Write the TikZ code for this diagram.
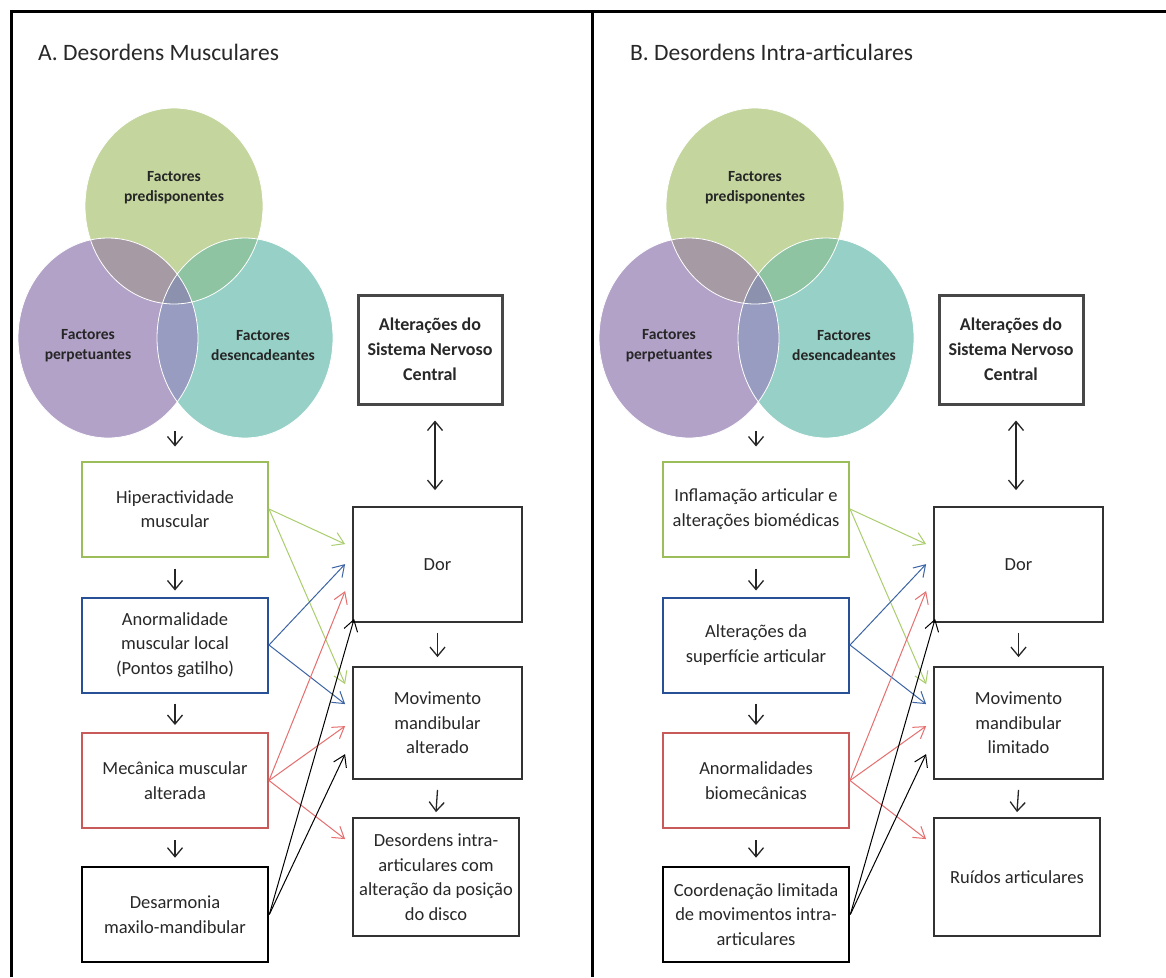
\documentclass[tikz,border=0pt]{standalone}
\usepackage{fontspec}
\setmainfont{Carlito}
\usetikzlibrary{arrows.meta,calc}
\definecolor{cgreen}{RGB}{196,214,158}
\definecolor{cpurple}{RGB}{178,162,200}
\definecolor{cteal}{RGB}{150,208,198}
\definecolor{cgp}{RGB}{166,154,164}
\definecolor{cgt}{RGB}{142,196,162}
\definecolor{cpt}{RGB}{152,156,192}
\definecolor{cgpt}{RGB}{140,146,174}
\definecolor{bgreen}{RGB}{155,190,90}
\definecolor{agreen}{RGB}{170,205,110}
\definecolor{bblue}{RGB}{40,80,150}
\definecolor{ablue}{RGB}{60,100,165}
\definecolor{bred}{RGB}{200,90,90}
\definecolor{ared}{RGB}{230,110,110}
\definecolor{txt}{RGB}{40,40,40}
\definecolor{bgrey}{RGB}{50,50,50}
\tikzset{
  box/.style={draw, line width=2pt, fill=white, minimum width=186pt, minimum height=95pt, align=center, font=\fontsize{18.5}{24.5}\selectfont, text=txt, inner sep=0pt},
  rbox/.style={draw=bgrey, line width=1.8pt, fill=white, align=center, font=\fontsize{18.5}{24.5}\selectfont, text=txt, inner sep=0pt},
  cnsbox/.style={draw=bgrey!90, line width=3pt, fill=white, minimum width=144pt, minimum height=109pt, align=center, font=\bfseries\fontsize{18}{25}\selectfont, text=txt, inner sep=0pt},
  vtxt/.style={align=center, font=\bfseries\fontsize{15.5}{20}\selectfont, text=black!85},
  ttl/.style={anchor=west, font=\fontsize{23.5}{26}\selectfont, text=txt, inner sep=0pt},
  down/.style={-{Straight Barb[length=9pt,width=15pt]}, line width=1.3pt, black!85},
  dbl/.style={{Straight Barb[length=9pt,width=15pt]}-{Straight Barb[length=9pt,width=15pt]}, line width=1.3pt, black!85},
  cross/.style={-{Straight Barb[length=11pt,width=14pt]}, line width=1pt},
}
\newcommand\drawpanel[8]{%
\begin{scope}[xshift=#2pt, name prefix=#1-]
  \def\GE{(174,206) ellipse [x radius=89pt, y radius=98pt]}
  \def\PE{(108,338) ellipse [x radius=90pt, y radius=100pt]}
  \def\TE{(245,338) ellipse [x radius=88pt, y radius=100pt]}
  \fill[cgreen] \GE;
  \fill[cpurple] \PE;
  \fill[cteal] \TE;
  \begin{scope}\clip \PE; \fill[cpt] \TE;\end{scope}
  \begin{scope}\clip \GE; \fill[cgp] \PE;\end{scope}
  \begin{scope}\clip \GE; \fill[cgt] \TE;\end{scope}
  \begin{scope}\clip \GE; \clip \PE; \fill[cgpt] \TE;\end{scope}
  \draw[white, line width=0.8pt] \GE \PE \TE;
  \node[vtxt] (vg) at (174,188) {Factores\\predisponentes};
  \node[vtxt] (vp) at (88,346) {Factores\\perpetuantes};
  \node[vtxt] (vt) at (263,346) {Factores\\desencadeantes};
  \coordinate (vbot) at (175,431);
  % left column
  \node[box, draw=bgreen] (b1) at (175,509) {#3};
  \node[box, draw=bblue] (b2) at (175,645) {#4};
  \node[box, draw=bred] (b3) at (175,780.5) {#5};
  \node[box, draw=black, line width=2.6pt] (b4) at (175,914.5) {#6};
  % right column
  \node[cnsbox] (cns) at (430,349.5) {Alterações do\\Sistema Nervoso\\Central};
  \node[rbox, minimum width=169pt, minimum height=115pt] (dor) at (437.5,564.5) {Dor};
  \node[rbox, minimum width=169pt, minimum height=112pt] (mov) at (437.5,723) {#7};
  \node[rbox, minimum width=166pt, minimum height=118pt] (last) at (436,877) {#8};
  % vertical arrows
  \draw[down] (vbot) -- ([yshift=14pt]b1.north);
  \draw[down] ([yshift=-11pt]b1.south) -- ([yshift=6pt]b2.north);
  \draw[down] ([yshift=-10pt]b2.south) -- ([yshift=7pt]b3.north);
  \draw[down] ([yshift=-11pt]b3.south) -- ([yshift=8pt]b4.north);
  \draw[dbl] ([xshift=5pt,yshift=-15pt]cns.south) -- ([xshift=-2.5pt,yshift=16pt]dor.north);
  \draw[down] ([yshift=-10pt]dor.south) -- ([yshift=9pt]mov.north);
  \draw[down] ([yshift=-10pt]mov.south) -- ([yshift=5pt]last.north);
  % cross arrows
  \draw[cross, agreen] (b1.east) -- ($(dor.north west)+(-7,38)$);
  \draw[cross, agreen] (b1.east) -- ($(mov.north west)+(-7,18)$);
  \draw[cross, ablue] (b2.east) -- ($(dor.north west)+(-7,58)$);
  \draw[cross, ablue] (b2.east) -- ($(mov.north west)+(-7,38)$);
  \draw[cross, ared] (b3.east) -- ($(dor.north west)+(-7,85)$);
  \draw[cross, ared] (b3.east) -- ($(mov.north west)+(-7,60)$);
  \draw[cross, ared] (b3.east) -- ($(last.north west)+(-7,22)$);
  \draw[cross, black] (b4.east) -- ($(dor.south west)+(2,-4)$);
  \draw[cross, black] (b4.east) -- ($(mov.north west)+(-7,88)$);
\end{scope}}
\begin{document}
\begin{tikzpicture}[x=1pt,y=-1pt]
\useasboundingbox (0,0) rectangle (1166,977);
\fill[white] (0,0) rectangle (1166,977);
\node[ttl] (ta) at (38,52) {A. Desordens Musculares};
\node[ttl] (tb) at (630,52) {B. Desordens Intra-articulares};
\drawpanel{A}{0}{Hiperactividade\\muscular}{Anormalidade\\muscular local\\(Pontos gatilho)}{Mecânica muscular\\alterada}{Desarmonia\\maxilo-mandibular}{Movimento\\mandibular\\alterado}{Desordens intra-\\articulares com\\alteração da posição\\do disco}
\drawpanel{B}{581}{Inflamação articular e\\alterações biomédicas}{Alterações da\\superfície articular}{Anormalidades\\biomecânicas}{Coordenação limitada\\de movimentos intra-\\articulares}{Movimento\\mandibular\\limitado}{Ruídos articulares}
\draw[line width=3pt] (11,977) -- (11,11) -- (1166,11);
\draw[line width=3pt] (592,11) -- (592,977);
\end{tikzpicture}
\end{document}
